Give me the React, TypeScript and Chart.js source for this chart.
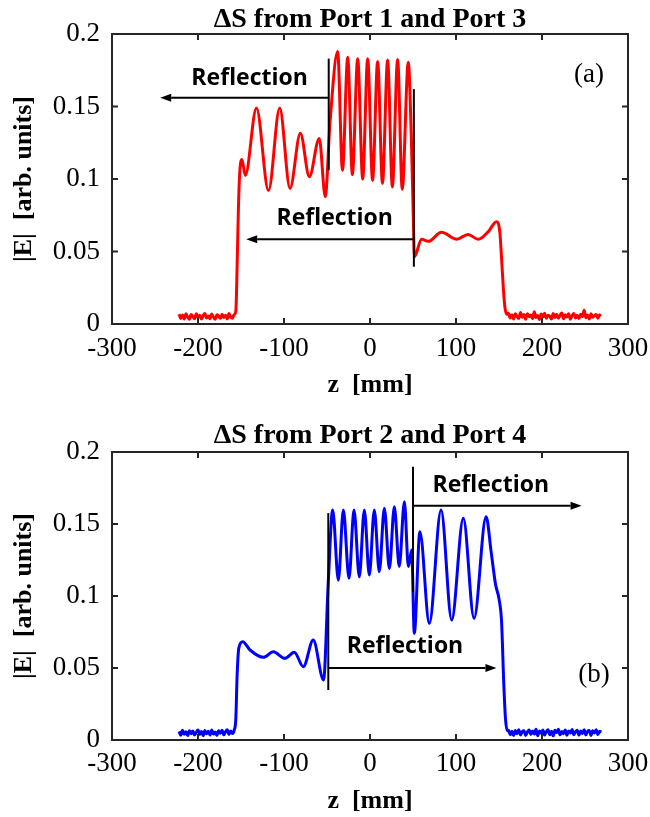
import { useEffect, useRef } from 'react';
import { Chart, registerables } from 'chart.js';

Chart.register(...registerables);

type Pt = [number, number];

// Axis ranges and ticks
const zTicks = [-300, -200, -100, 0, 100, 200, 300];
const eTicks = [0, 0.05, 0.1, 0.15, 0.2];

// |E| versus z, excitation from Port 1 and Port 3 (mm, arb. units)
const redTrace: Pt[] = [
  [-222, 0.0068], [-220, 0.0038], [-218, 0.0062], [-216, 0.0035], [-214, 0.0071], [-212, 0.0049],
  [-210, 0.0033], [-208, 0.0066], [-206, 0.0052], [-204, 0.0036], [-202, 0.007], [-200, 0.0044],
  [-198, 0.0061], [-196, 0.0034], [-194, 0.0058], [-192, 0.0072], [-190, 0.0041], [-188, 0.0055],
  [-186, 0.0037], [-184, 0.0069], [-182, 0.0047], [-180, 0.0032], [-178, 0.0063], [-176, 0.0054],
  [-174, 0.0039], [-172, 0.0067], [-170, 0.0045], [-168, 0.006], [-166, 0.0036], [-164, 0.0073],
  [-162, 0.0048], [-160, 0.004], [-158, 0.0064],
  [-156, 0.009], [-154.5, 0.04], [-153, 0.08], [-151.5, 0.104], [-149, 0.1135], [-145, 0.1025],
  [-132, 0.149], [-118, 0.092], [-105, 0.149], [-93, 0.0935], [-81, 0.1315], [-70.5, 0.1016],
  [-59, 0.128], [-52, 0.0878], [-46.5, 0.139], [-37.6, 0.188], [-32, 0.106], [-25.9, 0.184],
  [-20.5, 0.103], [-14.3, 0.183], [-8.5, 0.1], [-2.7, 0.183], [3, 0.099], [8.9, 0.181],
  [14.5, 0.097], [20.5, 0.182], [26, 0.0945], [32.1, 0.1825], [37.5, 0.093], [44.5, 0.1805],
  [48, 0.13], [50.5, 0.07], [51.6, 0.0464], [60, 0.0584], [68, 0.057], [83, 0.0632],
  [101, 0.0584], [114, 0.0618], [126, 0.0584], [137.6, 0.0637], [147, 0.0706], [151, 0.0632],
  [153, 0.045], [155, 0.025], [157, 0.011], [159, 0.0068],
  [161, 0.0074], [163, 0.0041], [165, 0.0063], [167, 0.0035], [169, 0.007], [171, 0.0052],
  [173, 0.0038], [175, 0.0079], [177, 0.0046], [179, 0.0066], [181, 0.0033], [183, 0.0071],
  [185, 0.005], [187, 0.0062], [189, 0.0037], [191, 0.0085], [193, 0.0044], [195, 0.0058],
  [197, 0.003], [199, 0.0069], [201, 0.0048], [203, 0.0075], [205, 0.0039], [207, 0.0061],
  [209, 0.0053], [211, 0.0034], [213, 0.0072], [215, 0.0045], [217, 0.0067], [219, 0.004],
  [221, 0.0059], [223, 0.0076], [225, 0.0036], [227, 0.0064], [229, 0.0049], [231, 0.007],
  [233, 0.0033], [235, 0.0057], [237, 0.0073], [239, 0.0042], [241, 0.006], [243, 0.0038],
  [245, 0.0068], [247, 0.0051], [249, 0.0095], [251, 0.0043], [253, 0.0062], [255, 0.0035],
  [257, 0.0071], [259, 0.0046], [261, 0.0058], [263, 0.0066], [265, 0.004], [267, 0.0063],
  [268, 0.0052],
];

// |E| versus z, excitation from Port 2 and Port 4
const blueTrace: Pt[] = [
  [-222, 0.006], [-220, 0.0033], [-218, 0.0068], [-216, 0.004], [-214, 0.0057], [-212, 0.0031],
  [-210, 0.0065], [-208, 0.0044], [-206, 0.0062], [-204, 0.0035], [-202, 0.0054], [-200, 0.007],
  [-198, 0.0038], [-196, 0.0059], [-194, 0.003], [-192, 0.0066], [-190, 0.0043], [-188, 0.0061],
  [-186, 0.0034], [-184, 0.0069], [-182, 0.0041], [-180, 0.0056], [-178, 0.0032], [-176, 0.0064],
  [-174, 0.0047], [-172, 0.0067], [-170, 0.0036], [-168, 0.0058], [-166, 0.0071], [-164, 0.0039],
  [-162, 0.0063], [-160, 0.0045], [-158, 0.0066],
  [-156, 0.015], [-154.5, 0.045], [-152.5, 0.064], [-148, 0.0683], [-139.5, 0.0625],
  [-124, 0.0574], [-112.4, 0.0613], [-99, 0.0567], [-88, 0.0609], [-77.5, 0.0509],
  [-66, 0.0694], [-54, 0.0417], [-48.5, 0.11], [-43.4, 0.1597], [-36.8, 0.111], [-31, 0.1597],
  [-24.4, 0.1123], [-18.6, 0.1597], [-12.4, 0.1134], [-6.6, 0.1597], [-0.8, 0.1146],
  [5, 0.1597], [10.8, 0.1169], [16.7, 0.161], [22.5, 0.119], [28.3, 0.162], [34, 0.1204],
  [40, 0.1655], [44.6, 0.1204], [48.5, 0.132], [51.5, 0.0741], [58, 0.1447], [69, 0.081],
  [82.6, 0.1597], [95, 0.0833], [108.5, 0.154], [121, 0.0845], [135, 0.155], [141, 0.13],
  [146, 0.108], [150, 0.098], [153, 0.082], [155.5, 0.04], [157.5, 0.015], [159.5, 0.0065],
  [161, 0.0068], [163, 0.0036], [165, 0.006], [167, 0.0031], [169, 0.0066], [171, 0.0043],
  [173, 0.0072], [175, 0.0035], [177, 0.0058], [179, 0.0064], [181, 0.0032], [183, 0.0055],
  [185, 0.007], [187, 0.0038], [189, 0.0062], [191, 0.0041], [193, 0.0075], [195, 0.003],
  [197, 0.0063], [199, 0.0047], [201, 0.0069], [203, 0.0034], [205, 0.0057], [207, 0.0071],
  [209, 0.0037], [211, 0.0061], [213, 0.0029], [215, 0.0067], [217, 0.0052], [219, 0.0074],
  [221, 0.0036], [223, 0.0059], [225, 0.0044], [227, 0.007], [229, 0.0033], [231, 0.0062],
  [233, 0.0048], [235, 0.0073], [237, 0.0037], [239, 0.0056], [241, 0.0068], [243, 0.0034],
  [245, 0.0063], [247, 0.0045], [249, 0.0071], [251, 0.0036], [253, 0.006], [255, 0.0066],
  [257, 0.0032], [259, 0.0064], [261, 0.0049], [263, 0.0072], [265, 0.0038], [267, 0.0061],
  [269, 0.0055],
];

interface Barrier { z: number; from: number; to: number }
interface Arrow { e: number; from: number; to: number }
interface Note { z: number; e: number; text: string }

// Interface markers (vertical bars) and reflection arrows, in data units
const barriersA: Barrier[] = [
  { z: -48, from: 0.106, to: 0.183 },
  { z: 51, from: 0.0395, to: 0.162 },
];
const arrowsA: Arrow[] = [
  { e: 0.156, from: -48, to: -244 },
  { e: 0.0584, from: 51, to: -144 },
];
const notesA: Note[] = [
  { z: -140, e: 0.1648, text: 'Reflection' },
  { z: -41, e: 0.0683, text: 'Reflection' },
];
const tagA: Note = { z: 254.7, e: 0.1717, text: '(a)' };

const barriersB: Barrier[] = [
  { z: -48.5, from: 0.0347, to: 0.1576 },
  { z: 50, from: 0.103, to: 0.1898 },
];
const arrowsB: Arrow[] = [
  { e: 0.05, from: -48.5, to: 147 },
  { e: 0.1627, from: 50, to: 246 },
];
const notesB: Note[] = [
  { z: 40.7, e: 0.0604, text: 'Reflection' },
  { z: 140.5, e: 0.1724, text: 'Reflection' },
];
const tagB: Note = { z: 260.5, e: 0.0451, text: '(b)' };

const SERIF = '"Liberation Serif", "Times New Roman", serif';
const SANS = '"Open Sans", "Noto Sans", sans-serif';

// Draws the panel title, boxed frame with inward ticks, interface bars, arrows and labels
const overlayPlugin = {
  id: 'overlay',
  afterDatasetsDraw(chart: any, _args: any, opts: any) {
    const { ctx, chartArea: a } = chart;
    const xs = chart.scales.x;
    const ys = chart.scales.y;
    ctx.save();

    ctx.fillStyle = '#000';
    ctx.font = `bold 28px ${SERIF}`;
    ctx.textAlign = 'center';
    ctx.textBaseline = 'alphabetic';
    ctx.fillText(opts.title, (a.left + a.right) / 2, opts.titleBaseline);

    ctx.strokeStyle = '#262626';
    ctx.lineWidth = 2;
    ctx.strokeRect(a.left, a.top, a.right - a.left, a.bottom - a.top);
    const tl = 6;
    ctx.beginPath();
    xs.ticks.forEach((t: any) => {
      const px = xs.getPixelForValue(t.value);
      ctx.moveTo(px, a.bottom);
      ctx.lineTo(px, a.bottom - tl);
      ctx.moveTo(px, a.top);
      ctx.lineTo(px, a.top + tl);
    });
    ys.ticks.forEach((t: any) => {
      const py = ys.getPixelForValue(t.value);
      ctx.moveTo(a.left, py);
      ctx.lineTo(a.left + tl, py);
      ctx.moveTo(a.right, py);
      ctx.lineTo(a.right - tl, py);
    });
    ctx.stroke();

    ctx.strokeStyle = '#000';
    ctx.lineWidth = 2;
    (opts.barriers as Barrier[]).forEach((b) => {
      const px = xs.getPixelForValue(b.z);
      ctx.beginPath();
      ctx.moveTo(px, ys.getPixelForValue(b.from));
      ctx.lineTo(px, ys.getPixelForValue(b.to));
      ctx.stroke();
    });
    (opts.arrows as Arrow[]).forEach((r) => {
      const py = ys.getPixelForValue(r.e);
      const x0 = xs.getPixelForValue(r.from);
      const x1 = xs.getPixelForValue(r.to);
      const dir = Math.sign(x1 - x0);
      const head = 11;
      ctx.beginPath();
      ctx.moveTo(x0, py);
      ctx.lineTo(x1 - dir * head, py);
      ctx.stroke();
      ctx.beginPath();
      ctx.moveTo(x1, py);
      ctx.lineTo(x1 - dir * head, py - 4);
      ctx.lineTo(x1 - dir * head, py + 4);
      ctx.closePath();
      ctx.fill();
    });

    ctx.font = `700 23px ${SANS}`;
    ctx.textAlign = 'center';
    ctx.textBaseline = 'alphabetic';
    (opts.notes as Note[]).forEach((n) => {
      ctx.fillText(n.text, xs.getPixelForValue(n.z), ys.getPixelForValue(n.e));
    });

    const tag = opts.tag as Note;
    ctx.font = `27px ${SERIF}`;
    ctx.textBaseline = 'middle';
    ctx.fillText(tag.text, xs.getPixelForValue(tag.z), ys.getPixelForValue(tag.e));
    ctx.restore();
  },
};

interface PanelProps {
  top: number;
  height: number;
  trace: Pt[];
  color: string;
  title: string;
  titleBaseline: number;
  areaTop: number;
  xAxisHeight: number;
  xTickPad: number;
  xTitlePad: number;
  barriers: Barrier[];
  arrows: Arrow[];
  notes: Note[];
  tag: Note;
}

function Panel(p: PanelProps) {
  const ref = useRef<HTMLCanvasElement | null>(null);

  useEffect(() => {
    if (!ref.current) return;
    const chart = new Chart(ref.current, {
      type: 'line',
      data: {
        datasets: [
          {
            data: p.trace.map(([z, e]) => ({ x: z, y: e })),
            borderColor: p.color,
            borderWidth: 3,
            pointRadius: 0,
            cubicInterpolationMode: 'monotone',
            borderJoinStyle: 'round',
            fill: false,
          },
        ],
      },
      options: {
        responsive: false,
        animation: false,
        events: [],
        layout: { padding: { left: 0, right: 22, top: p.areaTop, bottom: 0 } },
        plugins: {
          legend: { display: false },
          tooltip: { enabled: false },
          title: { display: false },
          overlay: {
            title: p.title,
            titleBaseline: p.titleBaseline,
            barriers: p.barriers,
            arrows: p.arrows,
            notes: p.notes,
            tag: p.tag,
          },
        } as any,
        scales: {
          x: {
            type: 'linear',
            min: zTicks[0],
            max: zTicks[zTicks.length - 1],
            afterBuildTicks: (s: any) => {
              s.ticks = zTicks.map((v) => ({ value: v }));
            },
            afterFit: (s: any) => {
              s.height = p.xAxisHeight;
              s.paddingLeft = 0;
              s.paddingRight = 0;
            },
            grid: { display: false, drawTicks: false },
            border: { display: false },
            ticks: {
              color: '#000',
              padding: p.xTickPad,
              maxRotation: 0,
              autoSkip: false,
              font: { family: SERIF, size: 27 },
              callback: (v: any) => String(v),
            },
            title: {
              display: true,
              text: 'z  [mm]',
              color: '#000',
              font: { family: SERIF, size: 26, weight: 'bold' },
              padding: { top: 0, bottom: p.xTitlePad },
            },
          },
          y: {
            type: 'linear',
            min: eTicks[0],
            max: eTicks[eTicks.length - 1],
            afterBuildTicks: (s: any) => {
              s.ticks = eTicks.map((v) => ({ value: v }));
            },
            afterFit: (s: any) => {
              s.width = 112;
              s.paddingTop = 0;
              s.paddingBottom = 0;
            },
            grid: { display: false, drawTicks: false },
            border: { display: false },
            ticks: {
              color: '#000',
              padding: 12,
              autoSkip: false,
              font: { family: SERIF, size: 27 },
              callback: (v: any) => String(Math.round(Number(v) * 100) / 100),
            },
            title: {
              display: true,
              text: '|E|  [arb. units]',
              color: '#000',
              font: { family: SERIF, size: 26, weight: 'bold' },
              padding: { top: 9, bottom: 0 },
            },
          },
        },
      },
      plugins: [overlayPlugin],
    } as any);
    return () => chart.destroy();
  }, []);

  return (
    <canvas
      ref={ref}
      width={650}
      height={p.height}
      style={{ position: 'absolute', left: 0, top: p.top, width: 650, height: p.height, display: 'block' }}
    />
  );
}

export default function App() {
  return (
    <div style={{ position: 'absolute', left: 0, top: 0, width: 650, height: 817, background: '#fff' }}>
      <Panel
        top={0}
        height={408}
        trace={redTrace}
        color="#ff0000"
        title="ΔS from Port 1 and Port 3"
        titleBaseline={27}
        areaTop={34}
        xAxisHeight={84}
        xTickPad={9}
        xTitlePad={7}
        barriers={barriersA}
        arrows={arrowsA}
        notes={notesA}
        tag={tagA}
      />
      <Panel
        top={408}
        height={409}
        trace={blueTrace}
        color="#0000ff"
        title="ΔS from Port 2 and Port 4"
        titleBaseline={35}
        areaTop={44}
        xAxisHeight={77}
        xTickPad={8}
        xTitlePad={0}
        barriers={barriersB}
        arrows={arrowsB}
        notes={notesB}
        tag={tagB}
      />
    </div>
  );
}
